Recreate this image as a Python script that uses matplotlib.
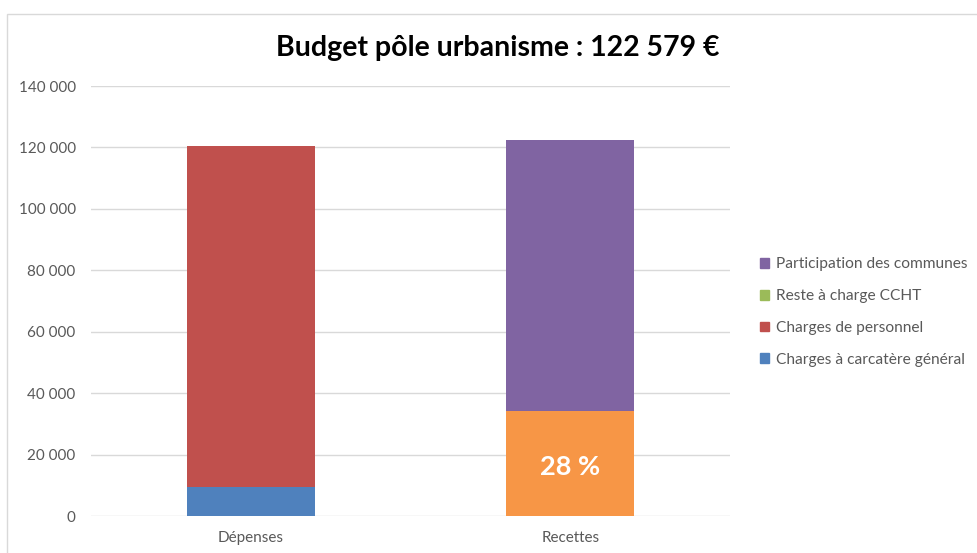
import matplotlib
matplotlib.use("Agg")
from matplotlib import pyplot as plt
from matplotlib.patches import Patch, Rectangle
from matplotlib.ticker import FuncFormatter

# Budget data (euros)
categories = ["Dépenses", "Recettes"]
charges_generales = [9500, 0]
charges_personnel = [110900, 0]
reste_cchit = [0, 34322]
participation = [0, 88257]
total = 122579
share_label = "28 %"

legend_labels = ["Participation des communes", "Reste à charge CCHT",
                 "Charges de personnel", "Charges à carcatère général"]
legend_colors = ["#8064A2", "#9BBB59", "#C0504D", "#4F81BD"]

plt.rcParams["font.family"] = ["Lato", "DejaVu Sans"]

W, H, dpi = 977, 553, 100
fig = plt.figure(figsize=(W / dpi, H / dpi), dpi=dpi)
ax = fig.add_axes([91 / W, 1 - 516 / H, (730 - 91) / W, (516 - 86) / H])

# chart area frame
fig.patches.append(Rectangle((7 / W, -0.1), 2, (553 - 14) / H + 0.1,
                             transform=fig.transFigure, fill=False,
                             edgecolor="#D9D9D9", linewidth=1))

x = [0, 1]
width = 0.4
ax.bar(x, charges_generales, width, color="#4F81BD", zorder=3)
ax.bar(x, charges_personnel, width, bottom=charges_generales,
       color="#C0504D", zorder=3)
ax.bar(x, reste_cchit, width, color="#F79646", zorder=3)
ax.bar(x, participation, width, bottom=reste_cchit, color="#8064A2", zorder=3)

ax.text(1, reste_cchit[1] / 2 - 1300, share_label, ha="center", va="center",
        color="white", fontsize=19.5, fontweight="bold", zorder=4)

ax.set_xlim(-0.5, 1.5)
ax.set_ylim(0, 140000)
ax.set_yticks(range(0, 140001, 20000))
ax.yaxis.set_major_formatter(FuncFormatter(lambda v, p: f"{int(v):,}".replace(",", " ")))
ax.set_xticks(x)
ax.set_xticklabels(categories)
ax.grid(axis="y", color="#D9D9D9", linewidth=1, zorder=0)
for s in ax.spines.values():
    s.set_visible(False)
ax.tick_params(length=0, labelsize=11, labelcolor="#595959")
ax.tick_params(axis="y", pad=11)
ax.tick_params(axis="x", pad=11)

fig.text(498 / W, 1 - 48 / H, f"Budget pôle urbanisme : {total:,} €".replace(",", " "),
         ha="center", va="center", fontsize=20.5, fontweight="bold", color="black")

handles = [Patch(color=c) for c in legend_colors]
fig.legend(handles, legend_labels, loc="center left",
           bbox_to_anchor=(746 / W, 1 - 312 / H), frameon=False,
           fontsize=11.2, labelcolor="#595959", handlelength=0.6, handleheight=0.6,
           handletextpad=0.4, labelspacing=1.15)

fig.savefig("out.png", dpi=dpi)
